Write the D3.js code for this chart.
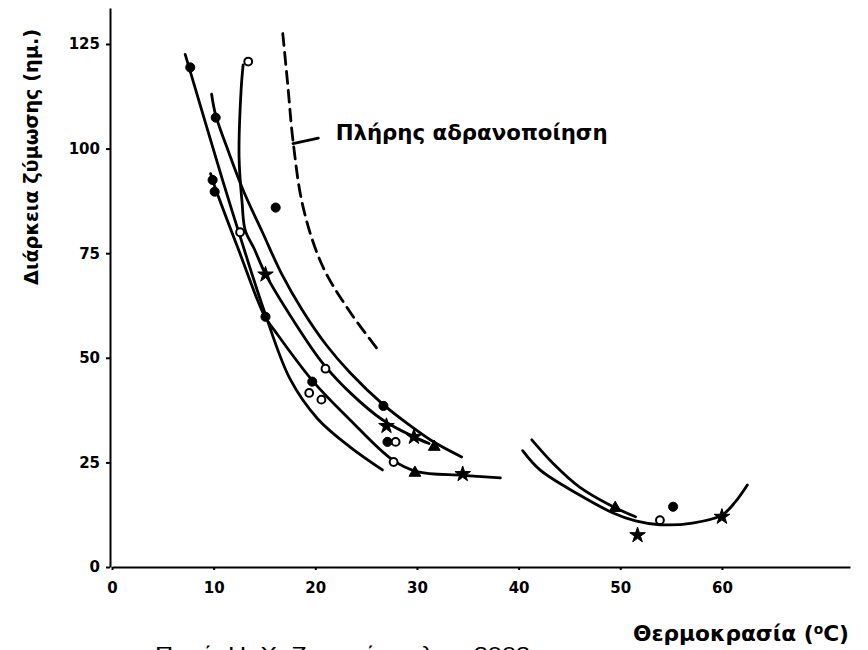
<!DOCTYPE html>
<meta charset="utf-8">
<style>
  body { margin: 0; background: #fff; }
  svg { display: block; }
  .axis path, .axis line { stroke: #000; stroke-width: 2; }
  .axis text { font-family: "DejaVu Sans", sans-serif; font-weight: bold; font-size: 15px; fill: #000; }
  .title { font-family: "DejaVu Sans", sans-serif; font-weight: bold; fill: #000; }
  .curve { fill: none; stroke: #000; stroke-width: 2.8; stroke-linecap: round; }
</style>
<script src="https://d3js.org/d3.v7.min.js"></script>
<body>
<div id="chart"></div>
<script>
// tick labels
const xTicks = [0, 10, 20, 30, 40, 50, 60];
const yTicks = [0, 25, 50, 75, 100, 125];

// fitted curves, [temperature °C, days]
const curveA = [[7.2,122.5],[10.9,92.3],[12.6,79],[15,61],[17.5,45],[20.2,35.5],[23.4,28.7],[26.6,23.2]];
const curveB = [[9.7,94],[10.1,91],[12.5,75.5],[15,60],[16,56.5],[19.8,44.3],[23.4,35.2],[27.6,25.6],[30,22.8],[34.5,21.9],[38.2,21.3]];
const curveC = [[12.9,120],[12.7,114],[12.5,98],[12.8,87],[13.1,80.5],[14,76],[15.1,70],[17.8,59.1],[20.7,48.8],[23.5,41.5],[26.6,35.2],[29.7,31.1],[31.2,29.5]];
const curveD = [[9.8,113],[10.2,108],[11.5,99],[13,89.5],[14.8,80],[16.7,70],[18.7,61.5],[21.1,53],[23.4,46.5],[26.6,39],[29.5,33.5],[31.7,29.8],[34.4,26.3]];
const curveInact = [[16.8,127.5],[17.3,115],[17.8,102],[18.8,86],[20.7,72],[23.4,61],[26.4,51.2]];
const curveR1 = [[40.4,27.8],[42.1,23.2],[46,17.2],[49.3,12.9],[51.5,11],[53.9,10.1],[57.1,10.5],[60,12.4],[61.3,15.5],[62.5,19.6]];
const curveR2 = [[41.3,30.4],[43.5,24.5],[46,19.1],[49.3,14.4],[51.5,12]];

// measured points
const ptsFilled = [[7.7,119.4],[10.2,107.4],[9.9,92.5],[10.1,89.7],[16.1,85.9],[15.1,59.8],[19.7,44.3],[26.7,38.5],[27.1,29.9],[55.2,14.4]];
const ptsOpen = [[13.4,120.8],[12.6,80],[19.4,41.6],[20.6,40],[21,47.4],[27.9,29.9],[27.7,25.1],[53.9,11.2]];
const ptsStar = [[15.1,69.9],[29.7,31.1],[34.5,22.2],[51.7,7.6],[60,12],[27,33.7]];
const ptsTri = [[31.7,28.7],[49.5,14.1],[29.8,22.5]];

const leader = [[17.8,101.2],[20.3,102.5]];
const labelInact = "Πλήρης αδρανοποίηση";
const xTitle = "Θερμοκρασία (";
const yTitle = "Διάρκεια ζύμωσης (ημ.)";
const source = "Πηγή: Η. Χ. Ζαχαρόπουλος, 2002";

const width = 868, height = 650;

const svg = d3.select("#chart").append("svg")
  .attr("width", width)
  .attr("height", height);

// scales
const x = d3.scaleLinear().domain([0, 72.6]).range([112, 850]);
const y = d3.scaleLinear().domain([0, 133.6]).range([567, 8]);

// axes
svg.append("g")
  .attr("class", "axis")
  .attr("transform", `translate(0,${y(0)})`)
  .call(d3.axisBottom(x).tickValues(xTicks).tickSize(3).tickSizeOuter(0).tickPadding(12));

svg.append("g")
  .attr("class", "axis")
  .attr("transform", `translate(${x(0) - 2},0)`)
  .call(d3.axisLeft(y).tickValues(yTicks).tickSize(4).tickSizeOuter(0).tickPadding(6));

// curves
const line = d3.line()
  .x(d => x(d[0]))
  .y(d => y(d[1]))
  .curve(d3.curveCatmullRom.alpha(0.5));

const g = svg.append("g");
[curveA, curveB, curveC, curveD, curveR1, curveR2].forEach(c => {
  g.append("path").attr("class", "curve").attr("d", line(c));
});

g.append("path")
  .attr("class", "curve")
  .attr("d", line(curveInact))
  .attr("stroke-dasharray", "12 7")
  .attr("stroke-linecap", "butt");

g.append("path")
  .attr("class", "curve")
  .attr("stroke-width", 2)
  .attr("d", d3.line().x(d => x(d[0])).y(d => y(d[1]))(leader));

// points
function drawPts(data, type, size, filled) {
  g.selectAll(null)
    .data(data)
    .join("path")
    .attr("transform", d => `translate(${x(d[0])},${y(d[1])})`)
    .attr("d", d3.symbol().type(type).size(size))
    .attr("fill", filled ? "#000" : "#fff")
    .attr("stroke", "#000")
    .attr("stroke-width", filled ? 1 : 2);
}
drawPts(ptsFilled, d3.symbolCircle, 65, true);
drawPts(ptsOpen, d3.symbolCircle, 48, false);
drawPts(ptsStar, d3.symbolStar, 75, true);
drawPts(ptsTri, d3.symbolTriangle, 60, true);

// texts
svg.append("text")
  .attr("class", "title")
  .attr("x", x(22))
  .attr("y", y(102))
  .attr("font-size", 22)
  .attr("textLength", 272)
  .attr("lengthAdjust", "spacingAndGlyphs")
  .text(labelInact);

const xt = svg.append("text")
  .attr("class", "title")
  .attr("x", 633)
  .attr("y", 641)
  .attr("font-size", 22)
  .attr("textLength", 216)
  .attr("lengthAdjust", "spacingAndGlyphs");
xt.append("tspan").text(xTitle);
xt.append("tspan").attr("font-size", 14).attr("dy", -7).text("o");
xt.append("tspan").attr("dy", 7).text("C)");

svg.append("text")
  .attr("class", "title")
  .attr("transform", "translate(38,157) rotate(-90)")
  .attr("text-anchor", "middle")
  .attr("font-size", 19)
  .attr("textLength", 256)
  .attr("lengthAdjust", "spacingAndGlyphs")
  .text(yTitle);

svg.append("text")
  .attr("x", 155)
  .attr("y", 661)
  .attr("font-family", "Liberation Sans, Arial, sans-serif")
  .attr("font-size", 20)
  .attr("textLength", 375)
  .attr("lengthAdjust", "spacingAndGlyphs")
  .text(source);
</script>
</body>
